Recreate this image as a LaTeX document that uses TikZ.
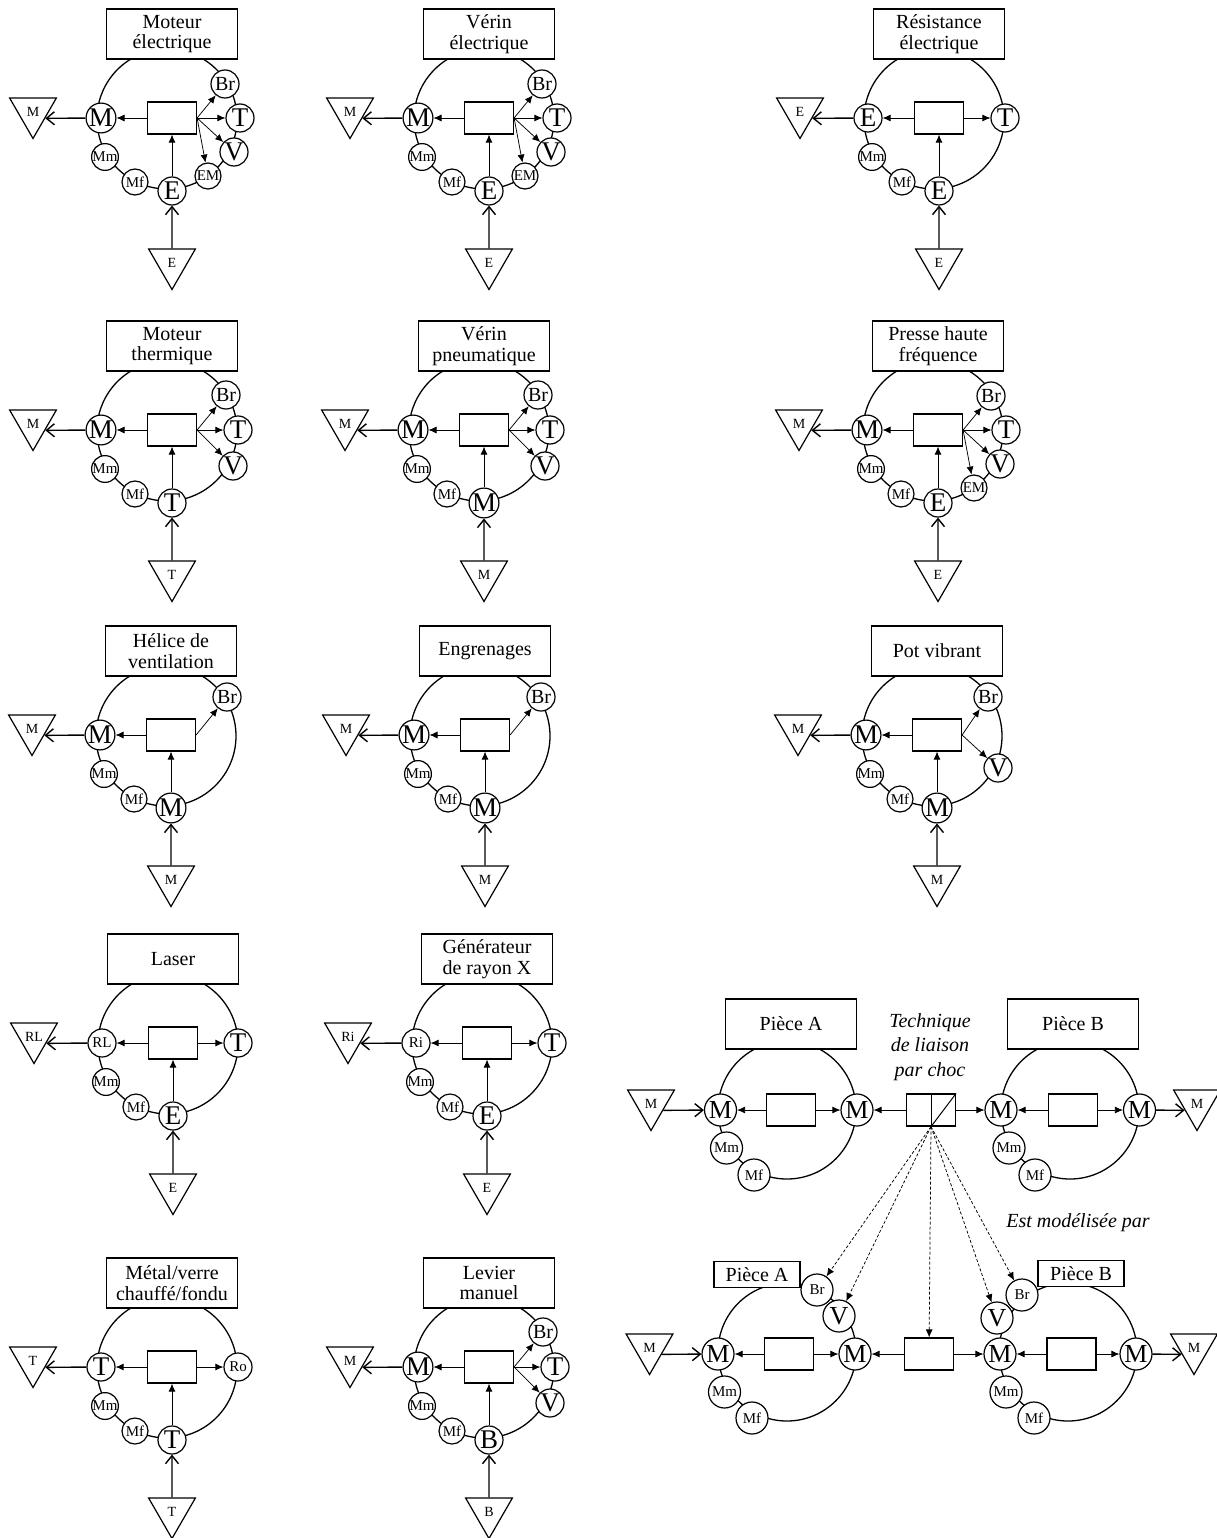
\documentclass[tikz,border=0pt]{standalone}
\usepackage{fontspec}
\setmainfont{Liberation Serif}
\usetikzlibrary{arrows.meta,shapes.geometric}
\tikzset{
 ring/.style={line width=1.3pt},
 big/.style={circle, draw, line width=1.2pt, fill=white, inner sep=0pt, minimum size=28pt, font=\fontsize{27}{27}\selectfont},
 brs/.style={big, font=\fontsize{20}{20}\selectfont},
 lsm/.style={big, font=\fontsize{15}{15}\selectfont},
 sml/.style={circle, draw, line width=1.2pt, fill=white, inner sep=0pt, minimum size=26pt, font=\fontsize{15}{15}\selectfont},
 big32/.style={big, minimum size=32pt, font=\fontsize{26}{26}\selectfont},
 sml32/.style={sml, minimum size=32pt},
 ttl/.style={draw, fill=white, line width=1.2pt, minimum width=131pt, minimum height=50pt, align=center, inner sep=0pt, font=\fontsize{20}{20.5}\selectfont},
 ttl2/.style={ttl, minimum width=86pt, minimum height=26pt},
 cbox/.style={draw, fill=white, line width=1.2pt, minimum width=49pt, minimum height=32pt, inner sep=0pt},
 tri/.style={regular polygon, regular polygon sides=3, shape border rotate=180, draw, line width=1.2pt, minimum size=54pt, inner sep=0pt, font=\fontsize{14}{14}\selectfont},
 ia/.style={-{Latex[length=8pt,width=7pt]}, line width=0.75pt},
 oa/.style={-{Straight Barb[length=8pt,width=13pt]}, line width=1.4pt},
 da/.style={ia, dashed, dash pattern=on 3pt off 2pt},
 itx/.style={inner sep=0pt, align=center, font=\itshape\fontsize{20}{24.5}\selectfont},
}
\newcommand{\dcore}[4]{%
 \draw[ring] (-5,1) circle[radius=70];
 \node[ttl] (#1t) at (0,-84) {#2};
 \node[cbox] (#1b) at (0,0) {};
 \node[sml] (#1mm) at (-67,39) {Mm};
 \node[sml] (#1mf) at (-37,64) {Mf};
 \node[big] (#1e) at (0,73) {#3};
 \node[tri] (#1in) at (0,144.5) {#4};
 \draw[ia] (#1e) -- (#1b);
 \draw[oa] (#1in) -- (#1e);
}
\newcommand{\dleft}[4]{%
 \node[#2] (#1l) at (-71,0) {#3};
 \node[tri] (#1out) at (-139,-6.5) {#4};
 \draw[ia] (#1b) -- (#1l);
 \draw[oa] (#1l) -- (#1out.-29);
}
\newcommand{\dright}[5]{%
 \node[#3] (#1#2) at (#4) {#5};
 \draw[ia] (#1b.east) -- (#1#2);
}
\newcommand{\typeA}[1]{%
 \dright{#1}{br}{brs}{53,-34}{Br}
 \dright{#1}{tt}{big}{68,0}{T}
 \dright{#1}{vv}{big}{62,34}{V}
 \dright{#1}{em}{sml}{36,58}{EM}
}
\newcommand{\typeB}[1]{%
 \dright{#1}{br}{brs}{54,-35}{Br}
 \dright{#1}{tt}{big}{66,0}{T}
 \dright{#1}{vv}{big}{61,36}{V}
}
\begin{document}
\begin{tikzpicture}[x=1pt,y=-1pt]
\useasboundingbox (0,0) rectangle (1216,1538);

% Row 1
\begin{scope}[shift={(172,118)}]
\dcore{d1}{Moteur\\électrique}{E}{E}
\dleft{d1}{big}{M}{M}
\typeA{d1}
\end{scope}
\begin{scope}[shift={(489,118)}]
\dcore{d2}{Vérin\\électrique}{E}{E}
\dleft{d2}{big}{M}{M}
\typeA{d2}
\end{scope}
\begin{scope}[shift={(939,118)}]
\dcore{d3}{Résistance\\électrique}{E}{E}
\dleft{d3}{big}{E}{E}
\dright{d3}{tt}{big}{66,0}{T}
\end{scope}

% Row 2
\begin{scope}[shift={(172,430)}]
\dcore{d4}{Moteur\\thermique}{T}{T}
\dleft{d4}{big}{M}{M}
\typeB{d4}
\end{scope}
\begin{scope}[shift={(484,430)}]
\dcore{d5}{Vérin\\pneumatique}{M}{M}
\dleft{d5}{big}{M}{M}
\typeB{d5}
\end{scope}
\begin{scope}[shift={(938,430)}]
\dcore{d6}{Presse haute\\fréquence}{E}{E}
\dleft{d6}{big}{M}{M}
\typeA{d6}
\end{scope}

% Row 3
\begin{scope}[shift={(171,735)}]
\dcore{d7}{Hélice de\\ventilation}{M}{M}
\dleft{d7}{big}{M}{M}
\dright{d7}{br}{brs}{56,-38}{Br}
\end{scope}
\begin{scope}[shift={(485,735)}]
\dcore{d8}{Engrenages}{M}{M}
\dleft{d8}{big}{M}{M}
\dright{d8}{br}{brs}{56,-38}{Br}
\end{scope}
\begin{scope}[shift={(937,735)}]
\dcore{d9}{Pot vibrant}{M}{M}
\dleft{d9}{big}{M}{M}
\dright{d9}{br}{brs}{51,-38}{Br}
\dright{d9}{vv}{big}{61,33}{V}
\end{scope}

% Row 4
\begin{scope}[shift={(173,1043)}]
\dcore{d10}{Laser}{E}{E}
\dleft{d10}{lsm}{RL}{RL}
\dright{d10}{tt}{big}{65,0}{T}
\end{scope}
\begin{scope}[shift={(487,1043)}]
\dcore{d11}{Générateur\\de rayon X}{E}{E}
\dleft{d11}{lsm}{Ri}{Ri}
\dright{d11}{tt}{big}{65,0}{T}
\end{scope}

% Row 5
\begin{scope}[shift={(172,1367)}]
\dcore{d12}{Métal/verre\\chauffé/fondu}{T}{T}
\dleft{d12}{big}{T}{T}
\dright{d12}{ro}{lsm}{66,0}{Ro}
\end{scope}
\begin{scope}[shift={(489,1367)}]
\dcore{d13}{Levier\\manuel}{B}{B}
\dleft{d13}{big}{M}{M}
\typeB{d13}
\end{scope}

% Bottom right: upper assembly
\draw[ring] (787,1110) circle[radius=69];
\draw[ring] (1070,1110) circle[radius=69];
\node[ttl] (pa) at (791,1024) {Pièce A};
\node[ttl] (pb) at (1073,1024) {Pièce B};
\node[big32] (aL) at (720.5,1110) {M};
\node[big32] (aR) at (857,1110) {M};
\node[sml32] (aMm) at (726.5,1148) {Mm};
\node[sml32] (aMf) at (754,1175) {Mf};
\node[cbox] (aB) at (791,1110) {};
\node[tri] (aIn) at (651,1103.5) {M};
\draw[ia] (aB) -- (aL);
\draw[ia] (aB) -- (aR);
\draw[oa] (aIn.-29) -- (aL);

\node[big32] (bL) at (1001,1110) {M};
\node[big32] (bR) at (1139.5,1110) {M};
\node[sml32] (bMm) at (1009,1148) {Mm};
\node[sml32] (bMf) at (1035,1175) {Mf};
\node[cbox] (bB) at (1073,1110) {};
\node[tri] (bOut) at (1197,1103.5) {M};
\draw[ia] (bB) -- (bL);
\draw[ia] (bB) -- (bR);
\draw[oa] (bR) -- (bOut.-151);

\node[cbox] (tech) at (931,1110) {};
\draw[line width=1pt] (tech.north) -- (tech.south);
\draw[line width=1pt] (tech.south) -- (tech.north east);
\node[itx] (techlbl) at (930,1047) {Technique\\de liaison\\par choc};
\draw[ia] (tech) -- (aR);
\draw[ia] (tech) -- (bL);

\node[itx] (est) at (1078,1223) {Est modélisée par};

% Bottom right: lower assembly
\draw[ring] (787,1352) circle[radius=69];
\draw[ring] (1068,1352) circle[radius=69];
\node[ttl2] (pa2) at (757,1274.5) {Pièce A};
\node[ttl2] (pb2) at (1081,1273.5) {Pièce B};
\node[big32] (cL) at (718,1354) {M};
\node[big32] (cR) at (855,1354) {M};
\node[big32] (cV) at (839,1316) {V};
\node[sml32] (cBr) at (817,1290) {Br};
\node[sml32] (cMm) at (724.5,1392) {Mm};
\node[sml32] (cMf) at (752,1418) {Mf};
\node[cbox] (cB) at (789,1354) {};
\node[tri] (cIn) at (649.5,1347.5) {M};
\draw[ia] (cB) -- (cL);
\draw[ia] (cB) -- (cR);
\draw[oa] (cIn.-29) -- (cL);

\node[cbox] (mid) at (929,1354) {};
\draw[ia] (mid) -- (cR);

\node[big32] (eL) at (1000,1354) {M};
\node[big32] (eR) at (1136,1354) {M};
\node[big32] (eV) at (997,1318) {V};
\node[sml32] (eBr) at (1022,1295) {Br};
\node[sml32] (eMm) at (1006,1392) {Mm};
\node[sml32] (eMf) at (1034,1418) {Mf};
\node[cbox] (eB) at (1071.5,1354) {};
\node[tri] (eOut) at (1194,1347.5) {M};
\draw[ia] (eB) -- (eL);
\draw[ia] (eB) -- (eR);
\draw[ia] (mid) -- (eL);
\draw[oa] (eR) -- (eOut.-151);

\draw[da] (tech.south) -- (cBr);
\draw[da] (tech.south) -- (cV);
\draw[da] (tech.south) -- (mid);
\draw[da] (tech.south) -- (eV);
\draw[da] (tech.south) -- (eBr);
\end{tikzpicture}
\end{document}
